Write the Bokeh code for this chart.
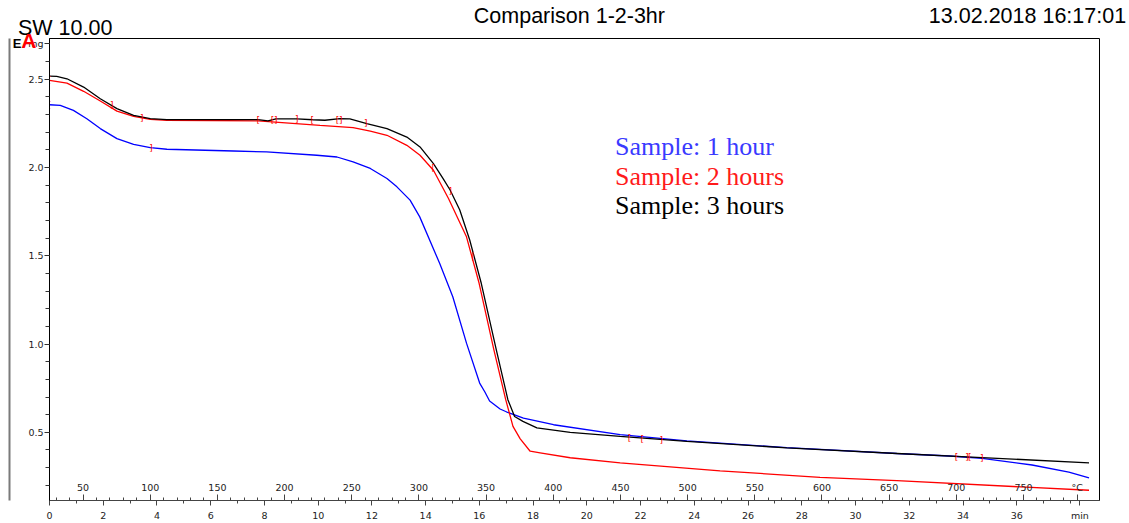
from bokeh.plotting import figure
from bokeh.models import Range1d, LinearAxis, FixedTicker, Label, ColumnDataSource
from bokeh.core.properties import value
from bokeh.embed import file_html
from bokeh.resources import INLINE

# ---------------- data (time in min, mass in mg) ----------------
black_t = [0.00, 0.27, 0.65, 1.27, 1.89, 2.51, 3.13, 3.75, 4.37, 5.60, 7.76, 8.13, 8.43, 9.21, 9.80,
           10.25, 10.81, 11.18, 11.81, 12.56, 13.30, 13.79, 14.29, 14.65, 14.91, 15.27, 15.64, 16.07,
           16.63, 17.06, 17.31, 17.62, 18.14, 19.38, 21.24, 23.72, 27.44, 31.54, 34.71, 38.69]
black_mg = [2.517, 2.515, 2.502, 2.455, 2.389, 2.333, 2.295, 2.276, 2.271, 2.271, 2.271, 2.264, 2.275,
            2.275, 2.270, 2.267, 2.276, 2.275, 2.248, 2.220, 2.172, 2.116, 2.022, 1.937, 1.872, 1.759,
            1.589, 1.344, 0.967, 0.685, 0.590, 0.562, 0.525, 0.500, 0.477, 0.449, 0.412, 0.380, 0.357,
            0.327]

blue_t = [0.00, 0.40, 0.89, 1.39, 1.89, 2.51, 3.13, 3.75, 4.37, 6.85, 8.08, 9.95, 10.70, 11.30, 11.94,
          12.56, 12.93, 13.42, 13.78, 14.52, 15.01, 15.52, 16.01, 16.20, 16.38, 16.77, 17.02, 17.64,
          18.76, 21.24, 23.72, 27.44, 31.54, 33.50, 34.71, 36.57, 37.94, 38.69]
blue_mg = [2.355, 2.351, 2.323, 2.276, 2.220, 2.163, 2.131, 2.112, 2.103, 2.093, 2.088, 2.069, 2.059,
           2.031, 1.994, 1.937, 1.890, 1.815, 1.720, 1.457, 1.268, 1.005, 0.779, 0.730, 0.677, 0.632,
           0.615, 0.581, 0.543, 0.487, 0.452, 0.413, 0.380, 0.366, 0.352, 0.315, 0.275, 0.242]

red_t = [0.00, 0.65, 1.27, 1.89, 2.51, 3.13, 3.75, 4.37, 7.76, 10.07, 11.30, 11.94, 12.56, 13.30, 13.79,
         14.29, 14.85, 15.52, 15.99, 16.54, 16.98, 17.25, 17.52, 17.89, 18.26, 19.38, 21.24, 24.96,
         28.68, 31.54, 38.69]
red_mg = [2.493, 2.477, 2.431, 2.376, 2.319, 2.289, 2.272, 2.267, 2.263, 2.238, 2.225, 2.205, 2.182,
          2.125, 2.069, 1.984, 1.824, 1.607, 1.344, 0.967, 0.685, 0.534, 0.463, 0.393, 0.384, 0.356,
          0.327, 0.282, 0.245, 0.226, 0.172]

# evaluation-limit brackets drawn on the curves
mark_t = [0.0, 0.0, 2.32, 3.43, 3.78, 7.77, 8.30, 8.42, 9.20, 9.78, 10.72, 10.84, 11.77, 14.28, 14.92,
          15.75, 21.59, 22.06, 22.77, 33.76, 34.15, 34.25, 34.70]
mark_mg = [2.493, 2.355, 2.355, 2.282, 2.110, 2.271, 2.271, 2.271, 2.276, 2.267, 2.271, 2.271, 2.251,
           1.994, 1.867, 1.497, 0.468, 0.465, 0.459, 0.361, 0.360, 0.360, 0.355]
mark_sym = ["[", "[", "]", "]", "]", "[", "[", "]", "]", "[", "[", "]", "]", "[", "]", "|", "[", "[",
            "]", "[", "]", "[", "]"]

series_names = ["Sample: 1 hour", "Sample: 2 hours", "Sample: 3 hours"]
series_colors = ["#0000ff", "#ff0000", "#000000"]
legend_colors = ["#3a3aff", "#ff1a1a", "#000000"]

time_ticks = [0, 2, 4, 6, 8, 10, 12, 14, 16, 18, 20, 22, 24, 26, 28, 30, 32, 34, 36]
temp_ticks = [50, 100, 150, 200, 250, 300, 350, 400, 450, 500, 550, 600, 650, 700, 750]
mass_ticks = [0.5, 1.0, 1.5, 2.0, 2.5]
mass_labels = ["0.5", "1.0", "1.5", "2.0", "2.5"]
start_temp = 25.0      # deg C at t = 0
heating_rate = 20.0    # K/min

title_left = "SW 10.00"
title_mid = "Comparison 1-2-3hr"
title_right = "13.02.2018 16:17:01"

# ---------------- figure ----------------
x0, x1 = 0.0, 39.08
y0, y1 = 0.114, 2.730

p = figure(width=1129, height=523, output_backend="svg", toolbar_location=None,
           x_range=Range1d(x0, x1), y_range=Range1d(y0, y1),
           min_border_left=49, min_border_right=30, min_border_top=38, min_border_bottom=22)
p.xgrid.visible = False
p.ygrid.visible = False
p.outline_line_color = "black"
p.outline_line_width = 1
p.background_fill_color = "white"
p.border_fill_color = "white"

tick_font = "DejaVu Sans"

# time axis (bottom)
xa = p.xaxis[0]
xa.ticker = FixedTicker(ticks=time_ticks + [38.35], minor_ticks=list(range(0, 39)))
xa.major_label_overrides = {38.35: "min"}
xa.axis_line_color = "#444444"
xa.major_tick_out = 5
xa.major_tick_in = 0
xa.minor_tick_out = 3
xa.minor_tick_in = 0
xa.major_tick_line_color = "#444444"
xa.minor_tick_line_color = "#444444"
xa.major_label_text_font = tick_font
xa.major_label_text_font_size = "9.5px"
xa.major_label_text_color = "#222222"
xa.major_label_standoff = 4

# temperature axis, drawn on the bottom edge with labels inside the frame
p.extra_x_ranges = {"temp": Range1d(start_temp + heating_rate * x0, start_temp + heating_rate * x1)}
ta = LinearAxis(x_range_name="temp", fixed_location=y0,
                ticker=FixedTicker(ticks=temp_ticks + [790], minor_ticks=list(range(30, 800, 10))),
                major_label_overrides={790: "°C"})
ta.axis_line_color = "#444444"
ta.major_tick_out = 6
ta.major_tick_in = 0
ta.minor_tick_out = 3
ta.minor_tick_in = 0
ta.major_tick_line_color = "#444444"
ta.minor_tick_line_color = "#444444"
ta.major_label_text_font = tick_font
ta.major_label_text_font_size = "9.5px"
ta.major_label_text_color = "#222222"
ta.major_label_standoff = 2
p.add_layout(ta, "above")

# mass axis (left)
ya = p.yaxis[0]
ya.ticker = FixedTicker(ticks=mass_ticks + [2.7], minor_ticks=[round(0.2 + 0.1 * i, 1) for i in range(26)])
overrides = {t: l for t, l in zip(mass_ticks, mass_labels)}
overrides[2.7] = "mg"
ya.major_label_overrides = overrides
ya.axis_line_color = "black"
ya.major_tick_out = 5
ya.major_tick_in = 0
ya.minor_tick_out = 4
ya.minor_tick_in = 0
ya.major_tick_line_color = "#333333"
ya.minor_tick_line_color = "#333333"
ya.major_label_text_font = tick_font
ya.major_label_text_font_size = "9.5px"
ya.major_label_text_color = "#222222"
ya.major_label_standoff = 1


def text_axis(side, ticks, texts, size, standoff, color="black", bold=False):
    """A side-panel axis without line/ticks, used only to place header text."""
    ax = LinearAxis(ticker=FixedTicker(ticks=ticks, minor_ticks=[]),
                    major_label_overrides=dict(zip(ticks, texts)))
    ax.axis_line_color = None
    ax.major_tick_out = 0
    ax.major_tick_in = 0
    ax.minor_tick_out = 0
    ax.minor_tick_in = 0
    ax.major_label_standoff = standoff
    ax.major_label_text_font = "Liberation Sans"
    ax.major_label_text_font_size = size
    ax.major_label_text_color = color
    if bold:
        ax.major_label_text_font_style = "bold"
    p.add_layout(ax, side)
    return ax


# header line (stacked above the frame)
text_axis("above", [0.584], [title_left], "21.5px", -1)
text_axis("above", [19.35, 36.40], [title_mid, title_right], "21.5px", -15)

# small logo glyphs at the top-left corner (stacked left of the mass axis)
text_axis("left", [2.719], ["A"], "21px", -11, color="#ff0000", bold=True)
text_axis("left", [2.702], ["E"], "13px", -3, bold=True)

# grey vertical rule at the far left
rule = LinearAxis(ticker=FixedTicker(ticks=[], minor_ticks=[]))
rule.axis_line_color = "#7a7a7a"
rule.axis_line_width = 2
rule.major_tick_out = 0
rule.major_tick_in = 0
rule.minor_tick_out = 0
rule.minor_tick_in = 0
p.add_layout(rule, "left")

# curves
for t, m, c in [(blue_t, blue_mg, series_colors[0]), (red_t, red_mg, series_colors[1]),
                (black_t, black_mg, series_colors[2])]:
    p.line(t, m, line_color=c, line_width=1.3)

# bracket marks
msrc = ColumnDataSource(dict(x=mark_t, y=mark_mg, s=mark_sym))
p.text(x="x", y="y", text="s", source=msrc, text_color="#ff0000", text_font=value("DejaVu Sans"),
       text_font_size="9px", text_align="center", text_baseline="middle")

# legend texts
legend_x = 21.05
legend_y = [2.121, 1.948, 1.782]
for name, col, ly in zip(series_names, legend_colors, legend_y):
    p.add_layout(Label(x=legend_x, y=ly, text=name, text_color=col, text_font="Liberation Serif",
                       text_font_size="26px", text_baseline="alphabetic", text_align="left"))

open("out.html", "w").write(file_html(p, INLINE))
